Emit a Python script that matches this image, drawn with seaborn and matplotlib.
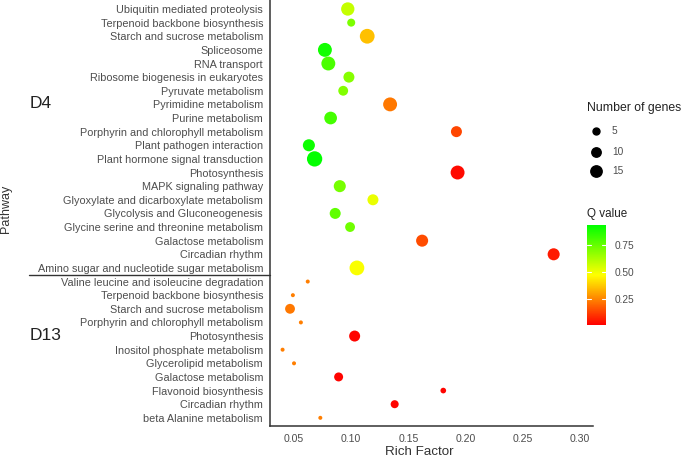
import numpy as np
import pandas as pd
import matplotlib
matplotlib.use("Agg")
import matplotlib.pyplot as plt
import seaborn as sns
from matplotlib.colors import LinearSegmentedColormap, Normalize
from matplotlib.colorbar import ColorbarBase
from matplotlib.lines import Line2D
from matplotlib.transforms import blended_transform_factory

# ---- data ----
d4_pathways = [
    "Ubiquitin mediated proteolysis", "Terpenoid backbone biosynthesis",
    "Starch and sucrose metabolism", "Spliceosome", "RNA transport",
    "Ribosome biogenesis in eukaryotes", "Pyruvate metabolism",
    "Pyrimidine metabolism", "Purine metabolism",
    "Porphyrin and chlorophyll metabolism", "Plant pathogen interaction",
    "Plant hormone signal transduction", "Photosynthesis",
    "MAPK signaling pathway", "Glyoxylate and dicarboxylate metabolism",
    "Glycolysis and Gluconeogenesis", "Glycine serine and threonine metabolism",
    "Galactose metabolism", "Circadian rhythm",
    "Amino sugar and nucleotide sugar metabolism",
]
d4_rich = [0.097, 0.100, 0.114, 0.077, 0.080, 0.098, 0.093, 0.134, 0.082, 0.192,
           0.063, 0.068, 0.193, 0.090, 0.119, 0.086, 0.099, 0.162, 0.277, 0.105]
d4_genes = [21, 7, 26, 23, 23, 14, 11, 23, 19, 14, 17, 28, 23, 17, 14, 14, 11, 17, 17, 26]
d4_q = [0.58, 0.71, 0.36, 0.90, 0.80, 0.69, 0.70, 0.23, 0.81, 0.14,
        0.91, 0.93, 0.03, 0.72, 0.51, 0.76, 0.73, 0.15, 0.06, 0.48]

d13_pathways = [
    "Valine leucine and isoleucine degradation", "Terpenoid backbone biosynthesis",
    "Starch and sucrose metabolism", "Porphyrin and chlorophyll metabolism",
    "Photosynthesis", "Inositol phosphate metabolism", "Glycerolipid metabolism",
    "Galactose metabolism", "Flavonoid biosynthesis", "Circadian rhythm",
    "beta Alanine metabolism",
]
d13_rich = [0.062, 0.049, 0.0465, 0.056, 0.103, 0.040, 0.050, 0.089, 0.1805, 0.138, 0.073]
d13_genes = [1, 1, 11, 1, 14, 1, 1, 9, 3, 7, 1]
d13_q = [0.24, 0.24, 0.23, 0.24, 0.02, 0.24, 0.24, 0.02, 0.02, 0.02, 0.24]

x_ticks = [0.05, 0.10, 0.15, 0.20, 0.25, 0.30]
size_legend = [5, 10, 15]
q_ticks = [0.25, 0.50, 0.75]

# ---- styling ----
sns.set_theme(style="white")
plt.rcParams["font.family"] = ["Liberation Sans", "DejaVu Sans"]

GREY_TXT = "#4d4d4d"
AXIS_COL = "#333333"
cmap = LinearSegmentedColormap.from_list("qv", ["#ff0000", "#ffff00", "#00ff00"])
q_norm = (0.01, 0.935)
gene_norm = (1, 28)
px = 0.72  # points per pixel at dpi 100
size_range = ((4.0 * px) ** 2, (15.3 * px) ** 2)

pathways = d4_pathways + d13_pathways
df = pd.DataFrame({
    "pathway": pathways,
    "rich": d4_rich + d13_rich,
    "genes": d4_genes + d13_genes,
    "q": d4_q + d13_q,
})
df["pos"] = np.arange(len(df))

fig = plt.figure(figsize=(6.85, 4.57), dpi=100)
ax = fig.add_axes([270 / 685, 1 - 426 / 457, 323 / 685, 426 / 457])

sns.scatterplot(
    data=df, x="rich", y="pos", hue="q", size="genes",
    palette=cmap, hue_norm=q_norm, sizes=size_range, size_norm=gene_norm,
    linewidth=0, legend=False, ax=ax, zorder=3,
)

ax.set_ylim(len(df) - 0.4, -0.66)
ax.set_xlim(0.029, 0.3114)
ax.set_yticks(df["pos"])
ax.set_yticklabels(df["pathway"])
ax.set_xticks(x_ticks)
ax.set_xticklabels([f"{t:.2f}" for t in x_ticks])
ax.tick_params(axis="y", labelsize=7.85, colors=GREY_TXT, length=3, width=0.8,
               direction="out", pad=2)
ax.tick_params(axis="x", labelsize=7.6, colors=GREY_TXT, length=3, width=0.8,
               direction="out", pad=2.5)
ax.tick_params(axis="both", color=AXIS_COL)
for side in ["top", "right"]:
    ax.spines[side].set_visible(False)
for side in ["left", "bottom"]:
    ax.spines[side].set_color(AXIS_COL)
    ax.spines[side].set_linewidth(1.1)
ax.set_xlabel("")
ax.set_ylabel("")
fig.text(419 / 685, 1 - 452 / 457, "Rich Factor", fontsize=9.6, color="#333333",
         ha="center", va="center")
fig.text(6 / 685, 1 - 209 / 457, "Pathway", rotation=90, fontsize=9,
         color="#333333", ha="center", va="center")

# separator between the two groups
trans = blended_transform_factory(ax.transAxes, ax.transData)
sep = len(d4_pathways) - 0.5
ax.plot([-0.745, 0], [sep, sep], color=AXIS_COL, lw=1.0, transform=trans, clip_on=False)

# group labels
fig.text(30 / 685, 1 - 104 / 457, "D4", fontsize=12.5, color="#222222", va="center")
fig.text(30 / 685, 1 - 335 / 457, "D13", fontsize=12.5, color="#222222", va="center")

# size legend
fig.text(587 / 685, 1 - 108 / 457, "Number of genes", fontsize=8.8, color="#222222", va="center")
for n, ypix in zip(size_legend, [131, 152, 171]):
    s = size_range[0] + (n - gene_norm[0]) / (gene_norm[1] - gene_norm[0]) * (size_range[1] - size_range[0])
    fig.add_artist(Line2D([596 / 685], [1 - ypix / 457], marker="o", markersize=np.sqrt(s),
                          color="black", lw=0, transform=fig.transFigure))
    fig.text(612 / 685, 1 - ypix / 457, str(n), fontsize=7.3, color=GREY_TXT, va="center")

# colour bar
fig.text(587 / 685, 1 - 214 / 457, "Q value", fontsize=8.4, color="#222222", va="center")
cax = fig.add_axes([587 / 685, 1 - 325 / 457, 19 / 685, 100 / 457])
cb = ColorbarBase(cax, cmap=cmap, norm=Normalize(*q_norm), orientation="vertical")
cb.outline.set_visible(False)
cb.set_ticks(q_ticks)
cb.set_ticklabels([f"{t:.2f}" for t in q_ticks])
cax.tick_params(labelsize=7.3, colors=GREY_TXT, length=0, pad=6)
for t in q_ticks:
    cax.plot([0, 0.2], [t, t], color="white", lw=0.8)
    cax.plot([0.8, 1], [t, t], color="white", lw=0.8)

fig.savefig("out.png", dpi=100)
